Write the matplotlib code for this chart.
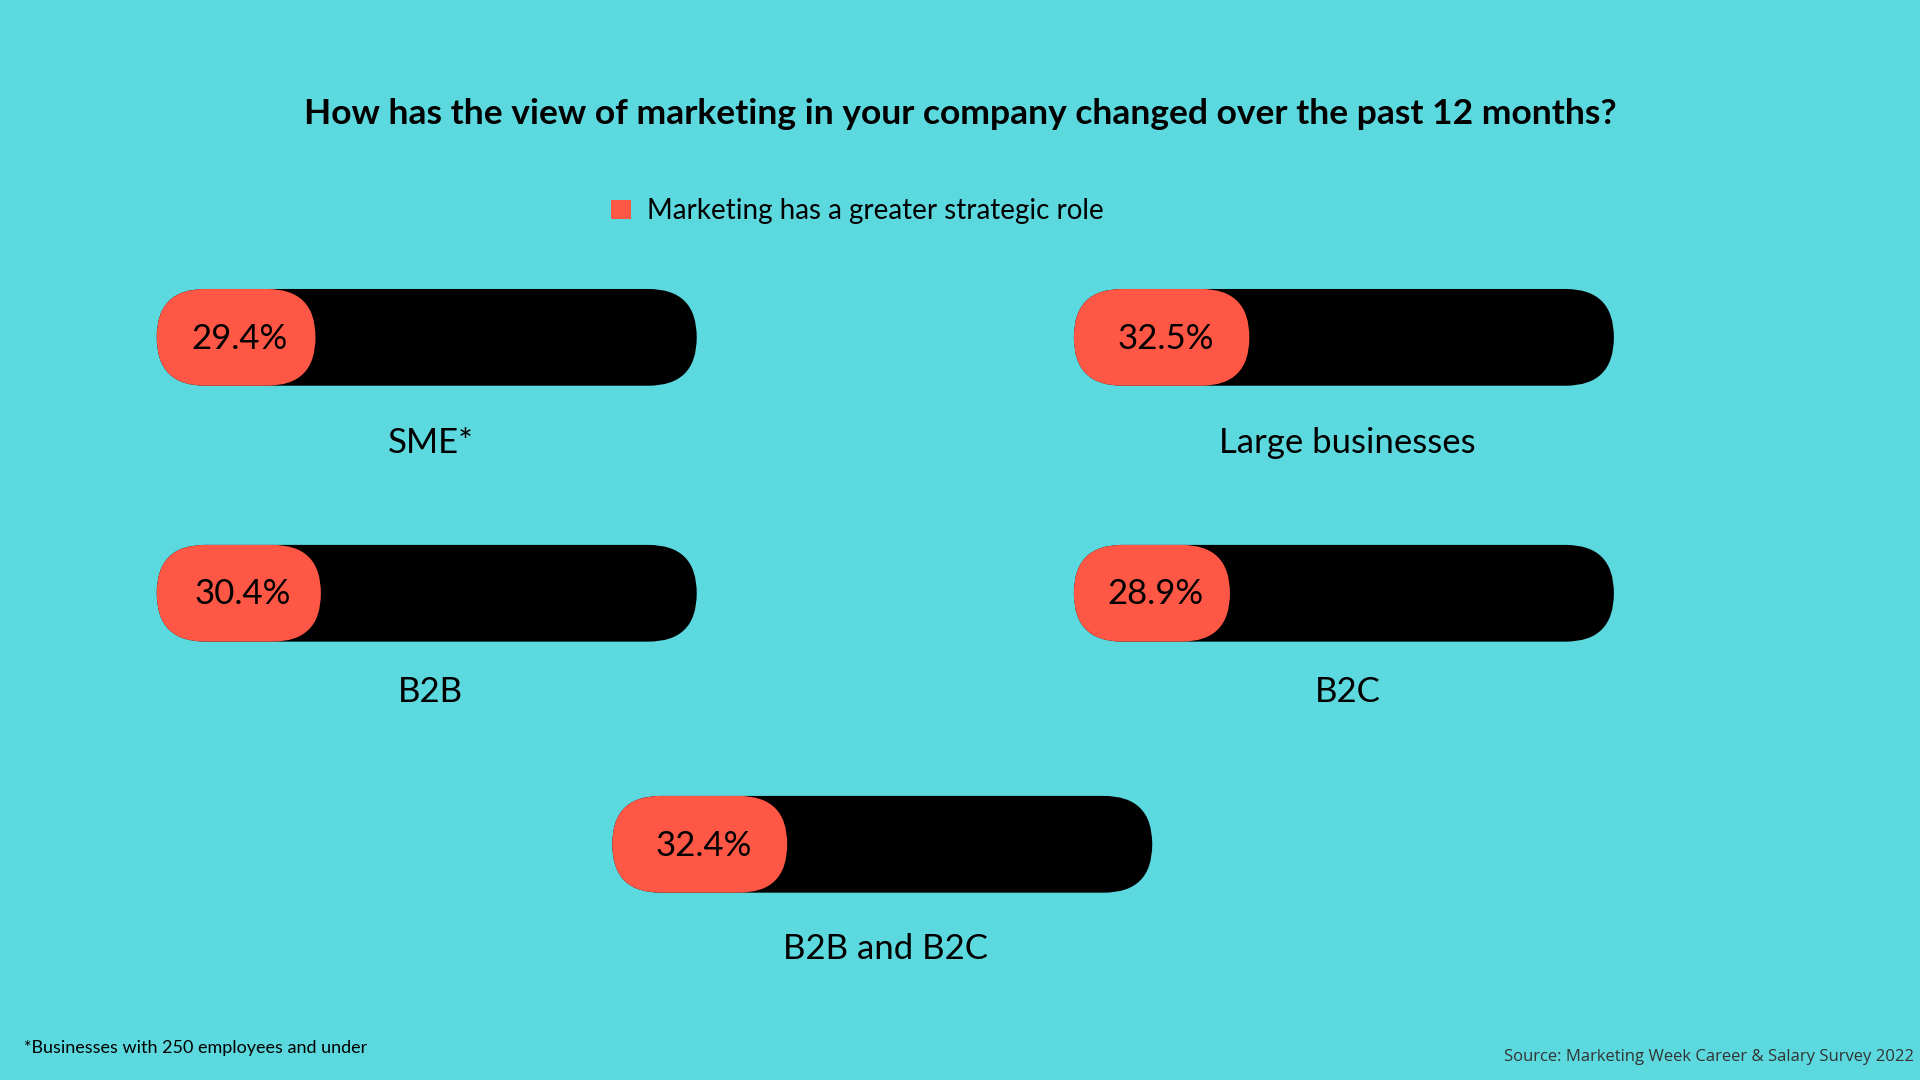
import matplotlib
matplotlib.use('Agg')
import matplotlib.pyplot as plt
from matplotlib.patches import FancyBboxPatch

BG = '#5cd9df'
ORANGE = '#ff5745'
BLACK = '#000000'

labels = ['SME*', 'Large businesses', 'B2B', 'B2C', 'B2B and B2C']
values = [29.4, 32.5, 30.4, 28.9, 32.4]

# layout in reference pixel space (1568 x 882)
bar_x = [128, 877, 128, 877, 500]
bar_y = [236, 236, 445, 445, 650]
label_y = [362, 362, 565, 565, 775]
BAR_W = 441
BAR_H = 79

fig = plt.figure(figsize=(19.2, 10.8), dpi=100, facecolor=BG)
ax = fig.add_axes([0, 0, 1, 1])
ax.set_facecolor(BG)
ax.set_xlim(0, 1568)
ax.set_ylim(882, 0)
ax.axis('off')

r = BAR_H / 2
for lab, v, x0, y0, ly in zip(labels, values, bar_x, bar_y, label_y):
    ax.add_patch(FancyBboxPatch((x0, y0), BAR_W, BAR_H,
                                boxstyle=f'round,pad=0,rounding_size={r}',
                                fc=BLACK, ec='none'))
    w = BAR_W * v / 100
    ax.add_patch(FancyBboxPatch((x0, y0), w, BAR_H,
                                boxstyle=f'round,pad=0,rounding_size={r}',
                                fc=ORANGE, ec='none'))
    ax.text(x0 + w / 2 + 3, y0 + BAR_H / 2 + 1, f'{v}%', fontsize=25,
            ha='center', va='center', color=BLACK, family='Lato')
    ax.text(x0 + BAR_W / 2 + 3, ly, lab, fontsize=25, ha='center',
            va='center', color=BLACK, family='Lato')

ax.text(784, 93, 'How has the view of marketing in your company changed over the past 12 months?',
        fontsize=25.5, fontweight='bold', ha='center', va='center', color=BLACK, family='Lato')

ax.add_patch(plt.Rectangle((499, 163), 16, 16, fc=ORANGE, ec='none'))
ax.text(528, 172, 'Marketing has a greater strategic role', fontsize=20,
        ha='left', va='center', color=BLACK, family='Lato')

ax.text(20, 856, '*Businesses with 250 employees and under', fontsize=13,
        ha='left', va='center', color=BLACK, family='Lato')
ax.text(1563, 863, 'Source: Marketing Week Career & Salary Survey 2022', fontsize=12,
        ha='right', va='center', color='#333333', family='Open Sans')

plt.savefig('out.png', dpi=100, facecolor=BG)
